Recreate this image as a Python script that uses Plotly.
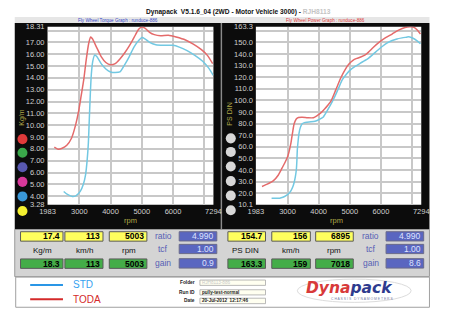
import plotly.graph_objects as go

W, H = 450, 321

# ---------------- data ----------------
tq_toda_rpm = [2200, 2320, 2450, 2600, 2750, 2880, 2980, 3060, 3140, 3220, 3300, 3363, 3420, 3550, 3700,
               3850, 4000, 4150, 4300, 4450, 4600, 4750, 4900, 5003, 5100, 5250, 5400, 5600, 5850,
               6100, 6400, 6650, 6900, 7100, 7270]
tq_toda = [8.15, 7.97, 8.05, 8.3, 8.9, 10.0, 11.2, 12.5, 13.8, 15.5, 16.9, 17.45, 17.3, 16.6, 15.8,
           15.3, 15.1, 15.2, 15.6, 16.1, 16.7, 17.4, 18.1, 18.3, 18.2, 17.85, 17.65, 17.55, 17.6,
           17.45, 17.2, 16.85, 16.4, 15.9, 15.2]

tq_std_rpm = [2500, 2620, 2780, 2900, 3030, 3130, 3200, 3250, 3290, 3320, 3350, 3385, 3430, 3496, 3560,
              3700, 3850, 4000, 4150, 4300, 4450, 4600, 4750, 4900, 5003, 5100, 5250, 5450, 5700,
              6000, 6200, 6450, 6700, 6950, 7150, 7290]
tq_std = [4.4, 4.15, 3.97, 4.05, 4.4, 5.0, 5.8, 7.0, 8.5, 10.5, 12.5, 14.3, 15.4, 15.94, 15.8,
          15.2, 14.75, 14.5, 14.45, 14.5, 15.1, 15.8, 16.6, 17.15, 17.4, 17.3, 17.0, 16.8, 16.75,
          16.75, 16.6, 16.3, 15.9, 15.4, 14.8, 14.2]

pw_toda_rpm = [2180, 2350, 2540, 2700, 2800, 2910, 3005, 3107, 3160, 3212, 3280, 3350, 3469, 3650, 3831,
               3960, 4088, 4190, 4300, 4398, 4550, 4708, 4850, 4965, 5100, 5224, 5350, 5481, 5600,
               5750, 5946, 6150, 6358, 6550, 6773, 6977, 7060, 7131, 7200, 7268]
pw_toda = [25.8, 27.8, 30.6, 35.5, 40.4, 46.0, 51.7, 63.0, 72.0, 79.8, 84.0, 85.2, 85.4, 85.0, 85.0,
           87.0, 89.6, 92.5, 96.0, 99.5, 109.0, 119.2, 126.5, 131.0, 134.5, 136.1, 137.3, 138.9, 141.5,
           145.5, 150.1, 154.0, 157.1, 160.2, 162.8, 163.3, 162.8, 161.4, 159.5, 157.1]

pw_std_rpm = [2488, 2620, 2748, 2850, 2952, 3040, 3107, 3170, 3212, 3250, 3283, 3300, 3314, 3340, 3367,
              3410, 3469, 3540, 3624, 3750, 3881, 4000, 4141, 4274, 4380, 4500, 4630, 4760, 4890,
              5017, 5170, 5327, 5450, 5584, 5740, 5893, 6050, 6203, 6360, 6512, 6680, 6822, 6895,
              7030, 7150, 7268]
pw_std = [15.7, 15.6, 15.7, 16.5, 17.9, 19.8, 22.1, 25.5, 29.2, 34.0, 40.4, 48.0, 57.3, 65.0, 71.4,
          76.5, 79.8, 80.8, 81.2, 81.5, 82.0, 83.3, 85.4, 91.1, 96.0, 102.3, 110.0, 117.8, 122.5,
          126.2, 129.2, 131.8, 133.8, 136.0, 139.5, 143.1, 146.6, 149.5, 151.5, 152.9, 153.8, 154.4, 154.7,
          153.5, 151.5, 148.7]

rpm_range = [1983, 7294]
rpm_ticks = [1983, 3000, 4000, 5000, 6000, 7000, 7294]
rpm_ticktext = ["1983", "3000", "4000", "5000", "6000", "", "7294"]
tq_range = [3.28, 18.31]
tq_ticks = [3.28] + list(range(4, 19)) + [18.31]
tq_ticktext = ["3.28"] + ["%d.00" % v for v in range(4, 18)] + ["", "18.31"]
pw_range = [10.1, 163.3]
pw_ticks = [10.1] + list(range(20, 170, 10)) + [163.3]
pw_ticktext = ["10.1"] + ["%d.0" % v for v in range(20, 160, 10)] + ["", "163.3"]

title_text = "Dynapack  V5.1.6_04 (2WD - Motor Vehicle 3000) - "
title_blur = "RJH8113"
torque_caption = "Fly Wheel Torque Graph : runduce-886"
power_caption = "Fly Wheel Power Graph : runduce-886"

left_std_vals = ["17.4", "113", "5003"]
left_toda_vals = ["18.3", "113", "5003"]
left_units = ["Kg/m", "km/h", "rpm"]
left_params = ["4.990", "1.00", "0.9"]
right_std_vals = ["154.7", "156", "6895"]
right_toda_vals = ["163.3", "159", "7018"]
right_units = ["PS DIN", "km/h", "rpm"]
right_params = ["4.990", "1.00", "8.6"]
param_names = ["ratio", "tcf", "gain"]
info_labels = ["Folder", "Run ID", "Date"]
info_values = ["RJH8113-886", "pully-test-normal", "20-Jul-2012  12:17:46"]
series_names = ["STD", "TODA"]

# ---------------- styling ----------------
STD_C = "#72c8e2"
TODA_C = "#e46a6a"
GRID_C = "#c8c8c8"
TICK_C = "#cfcfcf"
OLIVE = "#b0a848"
FONT = "Liberation Sans, Arial, sans-serif"


def X(px):
    return px / W


def Y(py):
    return 1 - py / H


def rect(x0, y0, x1, y1, fill, line=None, lw=0, layer="above"):
    return dict(type="rect", xref="paper", yref="paper", x0=X(x0), x1=X(x1), y0=Y(y1), y1=Y(y0),
                fillcolor=fill, line=dict(color=line or fill, width=lw), layer=layer)


def circ(cx, cy, r, fill):
    return dict(type="circle", xref="paper", yref="paper", x0=X(cx - r), x1=X(cx + r),
                y0=Y(cy + r), y1=Y(cy - r), fillcolor=fill, line=dict(color=fill, width=0))


def seg(x0, y0, x1, y1, color, w):
    return dict(type="line", xref="paper", yref="paper", x0=X(x0), x1=X(x1), y0=Y(y0), y1=Y(y1),
                line=dict(color=color, width=w))


def txt(x, y, s, size, color, xanchor="center", bold=False, angle=0, family=FONT, italic=False):
    return dict(x=X(x), y=Y(y), xref="paper", yref="paper", text=s, showarrow=False,
                xanchor=xanchor, yanchor="middle", textangle=angle, borderpad=0,
                font=dict(size=size, color=color, family=family,
                          weight="bold" if bold else "normal",
                          style="italic" if italic else "normal"))


fig = go.Figure()
spl = dict(width=1.5, shape="spline", smoothing=0.6)
fig.add_trace(go.Scatter(x=tq_std_rpm, y=tq_std, mode="lines", line=dict(color=STD_C, **spl),
                         xaxis="x", yaxis="y", name=series_names[0]))
fig.add_trace(go.Scatter(x=tq_toda_rpm, y=tq_toda, mode="lines", line=dict(color=TODA_C, **spl),
                         xaxis="x", yaxis="y", name=series_names[1]))
fig.add_trace(go.Scatter(x=pw_std_rpm, y=pw_std, mode="lines", line=dict(color=STD_C, **spl),
                         xaxis="x2", yaxis="y2", name=series_names[0]))
fig.add_trace(go.Scatter(x=pw_toda_rpm, y=pw_toda, mode="lines", line=dict(color=TODA_C, **spl),
                         xaxis="x2", yaxis="y2", name=series_names[1]))

PT, PB = 23.5, 206.5
axfont = dict(size=7.5, color=TICK_C, family=FONT)
common_x = dict(range=rpm_range, tickvals=rpm_ticks, ticktext=rpm_ticktext, showgrid=True,
                gridcolor=GRID_C, gridwidth=2, zeroline=False, ticks="", showline=False,
                tickfont=axfont, fixedrange=True, ticklabelstandoff=1)
common_y = dict(showgrid=True, gridcolor=GRID_C, gridwidth=2, zeroline=False, ticks="",
                showline=False, tickfont=axfont, fixedrange=True, ticklabelstandoff=2)

shapes = []
# caption strip & frame
shapes.append(rect(7, 13.5, 437, 19.5, "#e6e6e6", layer="below"))
shapes.append(rect(7, 19.5, 437, 232, "#0c0c0c", layer="below"))
shapes.append(rect(220.5, 19.5, 222, 232, "#8a8a8a", layer="below"))
shapes.append(rect(41, PT, 213, PB, "white", layer="below"))
shapes.append(rect(257, PT, 428.5, PB, "white", layer="below"))

# colour buttons
left_cols = ["#e03a3a", "#3aa84a", "#5858b0", "#d8389a", "#3a98d8", "#f4f030"]
btn_y = [139, 153, 168, 183, 198, 213]
for c, yy in zip(left_cols, btn_y):
    shapes.append(circ(15, yy, 5.2, c))
    shapes.append(circ(231, yy - 0.8, 5.2, "#d8d8d8"))

# readout panel
shapes.append(rect(7, 232, 437, 280.5, "#d4d4d4", line="#9a9a9a", lw=1))
YEL, GRN, BLU = "#ffff5e", "#44ad48", "#5a66c0"
BOXL = "#5a5a5a"
left_boxes = [(13, 57), (59, 98.5), (105, 144)]
right_boxes = [(228, 267), (273.5, 313.5), (319, 358)]
row_top = (234.3, 244)
row_bot = (262.3, 272)
ann = []
for (x0, x1), v1, v2, u in zip(left_boxes, left_std_vals, left_toda_vals, left_units):
    shapes.append(rect(x0, row_top[0], x1, row_top[1], YEL, line=BOXL, lw=1))
    shapes.append(rect(x0, row_bot[0], x1, row_bot[1], GRN, line=BOXL, lw=1))
    ann.append(txt(x1 - 2, (row_top[0] + row_top[1]) / 2, v1, 8.5, "black", "right", bold=True))
    ann.append(txt(x1 - 2, (row_bot[0] + row_bot[1]) / 2, v2, 8.5, "black", "right", bold=True))
    ann.append(txt((x0 + x1) / 2 + 1, 254, u, 8, "#111111"))
for (x0, x1), v1, v2, u in zip(right_boxes, right_std_vals, right_toda_vals, right_units):
    shapes.append(rect(x0, row_top[0], x1, row_top[1], YEL, line=BOXL, lw=1))
    shapes.append(rect(x0, row_bot[0], x1, row_bot[1], GRN, line=BOXL, lw=1))
    ann.append(txt(x1 - 2, (row_top[0] + row_top[1]) / 2, v1, 8.5, "black", "right", bold=True))
    ann.append(txt(x1 - 2, (row_bot[0] + row_bot[1]) / 2, v2, 8.5, "black", "right", bold=True))
    ann.append(txt((x0 + x1) / 2 - 1, 254, u, 8, "#111111"))

param_rows = [(234.3, 243.8), (247.3, 256.8), (262, 271.7)]
for (bx0, bx1, lx), vals in [((177.5, 216.5, 161), left_params), ((392, 431, 376), right_params)]:
    for (y0, y1), name, v in zip(param_rows, param_names, vals):
        shapes.append(rect(bx0, y0, bx1, y1, BLU, line="#6a6a8a", lw=1))
        ann.append(txt(bx1 - 2, (y0 + y1) / 2, v, 8.5, "#dfe3ff", "right"))
        ann.append(txt(lx, (y0 + y1) / 2, name, 8.5, "#5660b4"))

# legend / info box
shapes.append(rect(8, 281, 437, 312, "white", line="#a0a0a0", lw=1))
shapes.append(seg(23, 289, 57, 289, "#2a96e6", 2))
shapes.append(seg(23, 303.7, 57, 303.7, "#d42a2a", 2))
ann.append(txt(66, 289, series_names[0], 10, "#36a2f0", "left"))
ann.append(txt(66, 303.7, series_names[1], 10, "#d42a2a", "left"))

info_y = [(284, 289.5), (294, 299.3), (302.7, 308.3)]
for (y0, y1), lab, val in zip(info_y, info_labels, info_values):
    shapes.append(rect(199, y0, 267, y1, "#fffff0", line="#a8a8a8", lw=0.8))
    ann.append(txt(195, (y0 + y1) / 2, lab, 4.8, "#222222", "right", bold=True))
    col = "#c8c8c8" if lab == "Folder" else "#222222"
    ann.append(txt(200, (y0 + y1) / 2, val, 4.6, col, "left", bold=(lab != "Folder")))

# logo swoosh
shapes.append(dict(type="circle", xref="paper", yref="paper", x0=X(300), x1=X(418),
                   y0=Y(307), y1=Y(283), line=dict(color="#dcdcdc", width=1), fillcolor="rgba(0,0,0,0)"))
ann.append(txt(354, 292.5, "<span style='color:#d83a3a'>Dyna</span><span style='color:#2e3b8e'>pack</span>",
               15.5, "#2e3b8e", "center", bold=True, italic=True, family="DejaVu Sans, sans-serif"))
ann.append(txt(367, 303.2, "C H A S S I S   D Y N A M O M E T E R S", 3.4, "#7a80a8", "center"))

# title & captions
ann.append(txt(142, 8, title_text + "<span style='color:#c4c4c4'>" + title_blur + "</span>",
               6.6, "#111111", "left", bold=True))
ann.append(txt(114, 16.6, torque_caption, 4.6, "#3a4ac8"))
ann.append(txt(329, 16.6, power_caption, 4.6, "#e04040"))

# axis titles
ann.append(txt(14.5, 116, "Kg/m", 7, OLIVE, angle=-90))
ann.append(txt(230, 113, "PS DIN", 7, OLIVE, angle=-90))
ann.append(txt(127.5, 223, "rpm", 7.5, OLIVE))
ann.append(txt(341, 223, "rpm", 7.5, OLIVE))

fig.update_layout(
    width=W, height=H, margin=dict(l=0, r=0, t=0, b=0),
    paper_bgcolor="white", plot_bgcolor="rgba(0,0,0,0)", showlegend=False,
    xaxis=dict(domain=[X(41), X(213)], anchor="y", **common_x),
    yaxis=dict(domain=[Y(PB), Y(PT)], anchor="x", range=tq_range, tickvals=tq_ticks,
               ticktext=tq_ticktext, **common_y),
    xaxis2=dict(domain=[X(257), X(428.5)], anchor="y2", **common_x),
    yaxis2=dict(domain=[Y(PB), Y(PT)], anchor="x2", range=pw_range, tickvals=pw_ticks,
                ticktext=pw_ticktext, **common_y),
    shapes=shapes, annotations=ann,
)

fig.write_html("out.html", config={"displayModeBar": False})
